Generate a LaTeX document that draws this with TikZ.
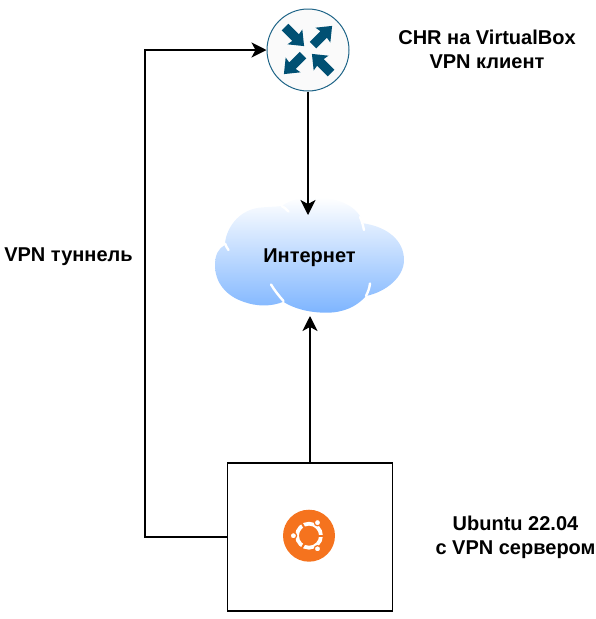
\documentclass[tikz,border=0pt]{standalone}
\usepackage{fontspec}
\setmainfont{Liberation Sans}
\definecolor{routerBlue}{RGB}{0,80,115}
\definecolor{routerEdge}{RGB}{30,100,135}
\definecolor{cloudBlue}{RGB}{126,181,255}
\definecolor{ubuntuOrange}{RGB}{245,115,30}
\usetikzlibrary{arrows.meta,positioning,calc}
\tikzset{
  label/.style={font=\fontsize{20}{24}\selectfont\bfseries, align=center, inner sep=0pt},
  link/.style={draw=black, line width=1.6pt, -{Stealth[length=15pt,width=15pt,inset=4pt]}},
  gap/.style={draw=white, line width=2.4pt, line cap=round},
  routerarrow/.style={fill=routerBlue, draw=none}
}
\begin{document}
\begin{tikzpicture}[x=1pt,y=-1pt]
  \useasboundingbox (0,0) rectangle (596,619);
  % Cloud
  \shade[top color=white, bottom color=cloudBlue]
    (281.7,206) .. controls (290,200) and (300,197.3) .. (313.3,197.3)
    .. controls (340,197.3) and (358.3,206.7) .. (363.3,223.3)
    .. controls (386.7,226.7) and (404,240) .. (404,260)
    .. controls (404,276.7) and (386.7,291.7) .. (366,296)
    .. controls (356.7,306.7) and (343.3,312.7) .. (326.7,312.7)
    .. controls (308.3,312.7) and (293.3,308.3) .. (283.3,301.7)
    .. controls (271.7,306.7) and (256.7,306.7) .. (243.3,301.7)
    .. controls (226.7,296) and (215,283.3) .. (215,265)
    .. controls (215,255) and (218.3,248.3) .. (225,245)
    .. controls (225,231.7) and (236.7,208.3) .. (263.3,207.3)
    .. controls (270,206.7) and (276.7,206.7) .. (281.7,206) -- cycle;
  % Gaps in the cloud
  \draw[gap] (271,284.5) .. controls (275,291) and (279,296) .. (283.5,301);
  \draw[gap] (370,283.5) .. controls (369.5,288) and (368,292) .. (366,296);
  \draw[gap] (360,217) .. controls (361.5,220) and (362.5,223) .. (364,230);
  \draw[gap] (225,243.5) .. controls (226,246) and (227,248) .. (228.5,250);
  \draw[gap] (281.7,206) .. controls (284,207) and (286,209) .. (288.5,211.5);
  % Nodes
  \node[circle, draw=routerEdge, fill=white!98!black, line width=1pt,
        minimum size=82pt, inner sep=0pt] (router) at (308,50) {};
  \node[draw=black, line width=1.6pt, minimum width=165pt, minimum height=148pt,
        inner sep=0pt] (server) at (310,536.8) {};
  \node[label] (inet) at (309.5,257.5) {Интернет};
  \coordinate (cloudtop) at (308,215);
  \coordinate (cloudbottom) at (310,316);
  \coordinate (leftbottom) at (145,536.8);
  \coordinate (lefttop) at (145,50);
  % Router arrows
  \foreach \dx/\dy/\ang in {5/-5/45, -5/5/225, -23/-23/-45, 23/23/135}
    \fill[routerarrow, shift={(308+\dx,50+\dy)}, rotate=\ang]
      (0,-4.6) -- (15,-4.6) -- (14,-10.5) -- (27,0) -- (14,10.5) -- (15,4.6) -- (0,4.6) -- cycle;
  % Ubuntu logo
  \fill[ubuntuOrange] (309,535.7) circle[radius=26];
  \draw[white, line width=3.8pt] (309,535.7) circle[radius=12];
  \foreach \ang in {0,120,240}
    \draw[ubuntuOrange, line width=2pt] (309,535.7) -- ($(309,535.7)+(\ang:18 and -18)$);
  \foreach \ang in {57,180,303}
    \fill[white, draw=ubuntuOrange, line width=1.2pt] ($(309,535.7)+(\ang:15.6 and -15.6)$) circle[radius=3.2];
  % Connectors
  \draw[link] (router.south) -- (cloudtop);
  \draw[link] (server.north) -- (cloudbottom);
  \draw[link] (server.west) -- (leftbottom) -- (lefttop) -- (router.west);
  % Labels
  \node[label] (chr) at (487,49) {CHR на VirtualBox\\VPN клиент};
  \node[label] (tunnel) at (68.5,257) {VPN туннель};
  \node[label] (ubuntu) at (515.5,537) {Ubuntu 22.04\\с VPN сервером};
\end{tikzpicture}
\end{document}
